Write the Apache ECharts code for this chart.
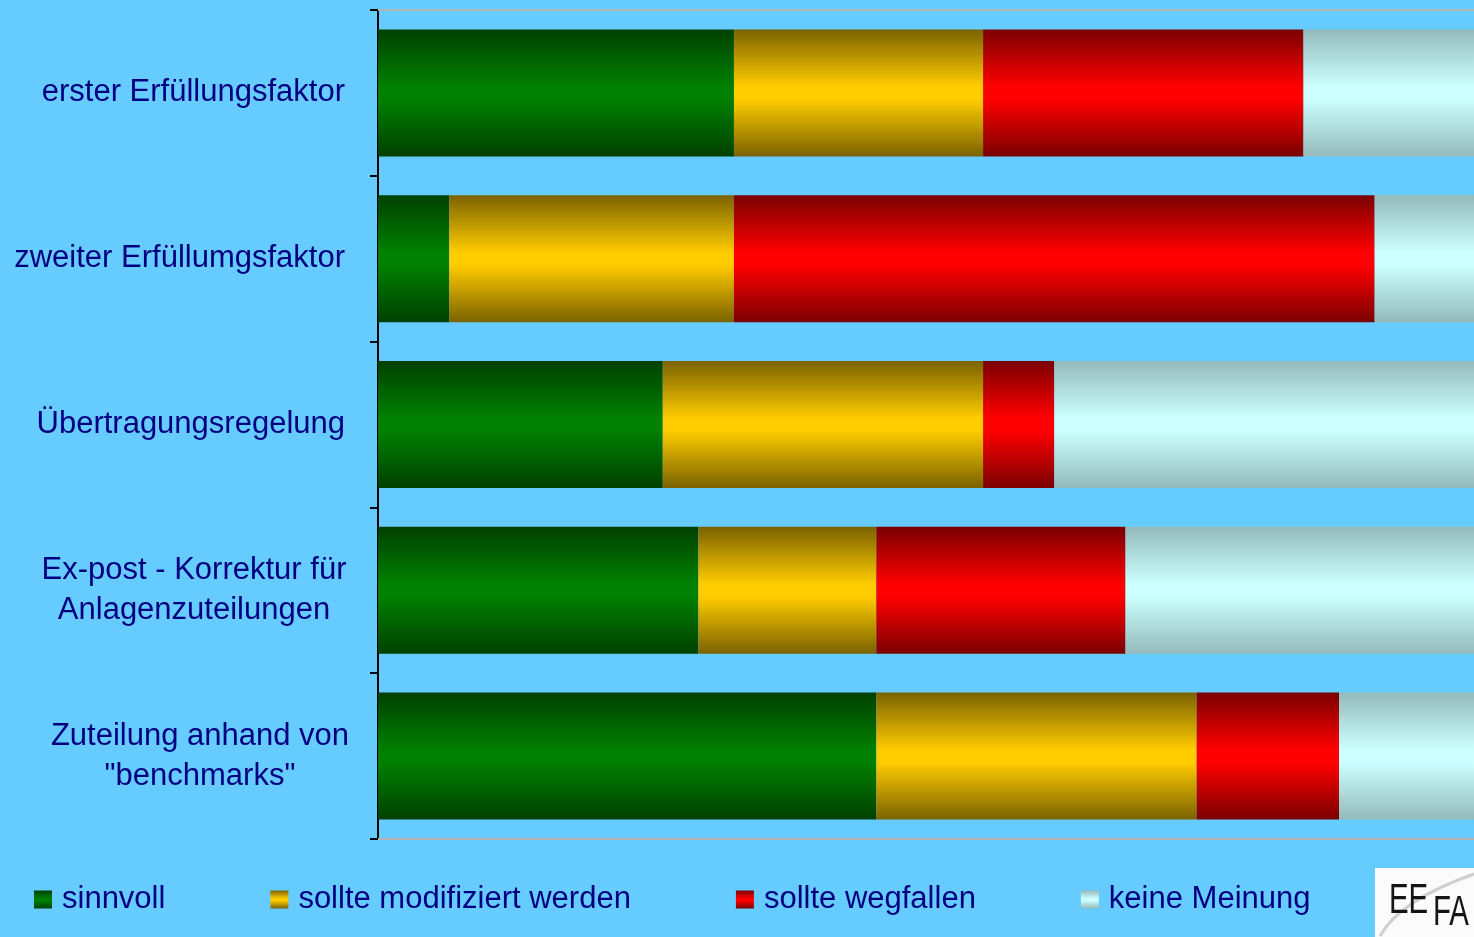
<!DOCTYPE html>
<html>
<head>
<meta charset="utf-8">
<script src="https://cdn.jsdelivr.net/npm/echarts@6/dist/echarts.min.js"></script>
<style>
html,body{margin:0;padding:0;overflow:hidden;background:#66CCFF;}
#c{width:1517px;height:937px;}
</style>
</head>
<body>
<div id="c"></div>
<script>
const categories = ['erster Erfüllungsfaktor', 'zweiter Erfüllumgsfaktor', 'Übertragungsregelung', 'Ex-post - Korrektur für\nAnlagenzuteilungen', 'Zuteilung anhand von\n"benchmarks"'];
const seriesNames = ['sinnvoll', 'sollte modifiziert werden', 'sollte wegfallen', 'keine Meinung'];
const sinnvoll = [10, 2, 8, 9, 14];
const modifiziert = [7, 8, 9, 5, 9];
const wegfallen = [9, 18, 2, 7, 4];
const keineMeinung = [6, 4, 13, 11, 5];
const axisMax = 32;

function grad(dark, bright) {
  return new echarts.graphic.LinearGradient(0, 0, 0, 1, [
    {offset: 0, color: dark}, {offset: 0.45, color: bright}, {offset: 0.55, color: bright}, {offset: 1, color: dark}
  ]);
}
const fills = [
  grad('#004000', '#008000'),
  grad('#7a6200', '#FFCC00'),
  grad('#7a0000', '#FF0000'),
  grad('#94BABA', '#CCFFFF')
];
const values = [sinnvoll, modifiziert, wegfallen, keineMeinung];
const FONT = '"Liberation Sans", Arial, sans-serif';
const FS = 31;

const chart = echarts.init(document.getElementById('c'));
chart.setOption({
  backgroundColor: '#66CCFF',
  animation: false,
  textStyle: {fontFamily: FONT},
  grid: {left: 378, right: 0, top: 10, bottom: 98, containLabel: false},
  legend: {
    left: 34, top: 884, padding: 0, itemWidth: 18, itemHeight: 18, itemGap: 105,
    icon: 'rect',
    textStyle: {fontSize: FS, color: '#000080', fontFamily: FONT, padding: [0, 0, 0, 5]},
    data: seriesNames
  },
  xAxis: [
    {type: 'value', min: 0, max: axisMax, position: 'bottom',
     axisLine: {show: true, lineStyle: {color: '#B4B4B4', width: 2}},
     axisTick: {show: false}, axisLabel: {show: false}, splitLine: {show: false}},
    {type: 'value', min: 0, max: axisMax, position: 'top',
     axisLine: {show: true, lineStyle: {color: '#B4B4B4', width: 2}},
     axisTick: {show: false}, axisLabel: {show: false}, splitLine: {show: false}}
  ],
  yAxis: {
    type: 'category', inverse: true, data: categories,
    axisLine: {show: true, lineStyle: {color: '#000000', width: 2}},
    axisTick: {show: true, length: 8, lineStyle: {color: '#000000', width: 2}},
    axisLabel: {
      margin: 33, fontSize: FS, color: '#000080', fontFamily: FONT, lineHeight: 40,
      formatter: function (v, i) {
        if (v.indexOf('\n') < 0) return v;
        const parts = v.split('\n');
        const st = i === 3 ? 'w4' : 'w5';
        return parts.map(p => '{' + st + '|' + p + '}').join('\n');
      },
      rich: {
        w4: {width: 302, align: 'center', fontSize: FS, color: '#000080', fontFamily: FONT, lineHeight: 40},
        w5: {width: 290, align: 'center', fontSize: FS, color: '#000080', fontFamily: FONT, lineHeight: 40}
      }
    }
  },
  graphic: [
    {type: 'rect', left: 1375, top: 868, shape: {width: 110, height: 69}, style: {fill: '#FBFBFB'}},
    {type: 'bezierCurve', shape: {x1: 1380, y1: 936, cpx1: 1400, cpy1: 900, x2: 1474, y2: 874}, style: {stroke: '#CFCFCF', lineWidth: 3, fill: null}},
    {type: 'text', x: 1389, y: 880, scaleX: 0.7, style: {text: 'EE', fontSize: 42, fill: '#151515', fontFamily: FONT}},
    {type: 'text', x: 1433, y: 892, scaleX: 0.7, style: {text: 'FA', fontSize: 42, fill: '#151515', fontFamily: FONT}}
  ],
  series: seriesNames.map((name, k) => ({
    name: name, type: 'bar', stack: 'total', barWidth: 127,
    itemStyle: {color: fills[k]},
    data: values[k]
  }))
});
</script>
</body>
</html>
